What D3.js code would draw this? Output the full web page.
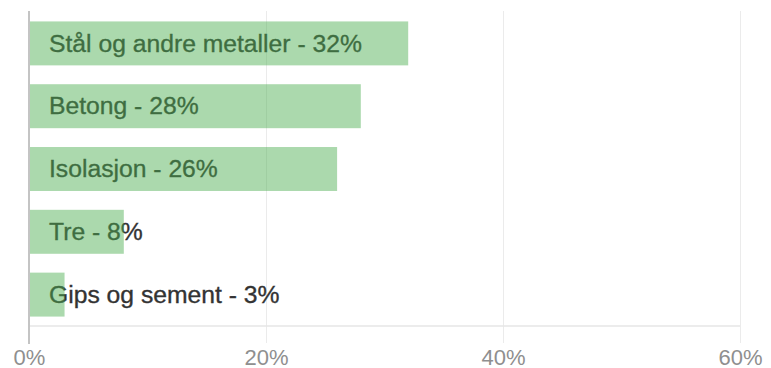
<!DOCTYPE html>
<html>
<head>
<meta charset="utf-8">
<script src="https://cdn.jsdelivr.net/npm/d3@7"></script>
<style>
  body { margin: 0; background: #fff; }
  svg { display: block; font-family: "Liberation Sans", Arial, sans-serif; }
</style>
</head>
<body>
<svg id="chart"></svg>
<script>
const categories = ['Stål og andre metaller', 'Betong', 'Isolasjon', 'Tre', 'Gips og sement'];
const values = [32, 28, 26, 8, 3];
const tickValues = [0, 20, 40, 60];

const width = 771;
const height = 368;

const svg = d3.select('#chart').attr('width', width).attr('height', height);

// scales
const x = d3.scaleLinear().domain([0, 60]).range([29, 740]);
const y = d3.scaleBand()
  .domain(categories)
  .range([12, 326])
  .paddingInner(0.3)
  .paddingOuter(0.15);

// grid + tick labels
const axis = svg.append('g')
  .attr('transform', 'translate(0,343)')
  .call(d3.axisBottom(x)
    .tickValues(tickValues)
    .tickFormat((d) => d + '%')
    .tickSize(-332)
    .tickPadding(6));
axis.select('.domain').remove();
axis.selectAll('.tick line').attr('stroke', '#ebebeb').attr('stroke-width', 1);
axis.selectAll('.tick text')
  .attr('fill', '#8f8f8f')
  .style('font-size', '22px')
  .style('font-family', '"Liberation Sans", Arial, sans-serif');

// bottom baseline
svg.append('line')
  .attr('x1', x(0)).attr('x2', x(60))
  .attr('y1', 326).attr('y2', 326)
  .attr('stroke', '#e6e6e6').attr('stroke-width', 1.5);

const rows = categories.map((c, i) => ({ name: c, value: values[i] }));

// labels go under the bars, the bars are see-through
svg.selectAll('.label')
  .data(rows)
  .enter()
  .append('text')
  .attr('class', 'label')
  .attr('x', x(0) + 20)
  .attr('y', (d) => y(d.name) + y.bandwidth() / 2)
  .attr('dy', '0.33em')
  .style('font-size', '24.7px')
  .attr('fill', '#333')
  .attr('stroke', '#333')
  .attr('stroke-width', 0.35)
  .text((d) => `${d.name} - ${d.value}%`);

svg.selectAll('.bar')
  .data(rows)
  .enter()
  .append('rect')
  .attr('class', 'bar')
  .attr('x', x(0))
  .attr('y', (d) => y(d.name))
  .attr('width', (d) => x(d.value) - x(0))
  .attr('height', y.bandwidth())
  .attr('fill', 'rgb(76,175,80)')
  .attr('fill-opacity', 0.47);

// left axis line
svg.append('line')
  .attr('x1', x(0)).attr('x2', x(0))
  .attr('y1', 11).attr('y2', 344)
  .attr('stroke', '#c4c4c4').attr('stroke-width', 2);
</script>
</body>
</html>
